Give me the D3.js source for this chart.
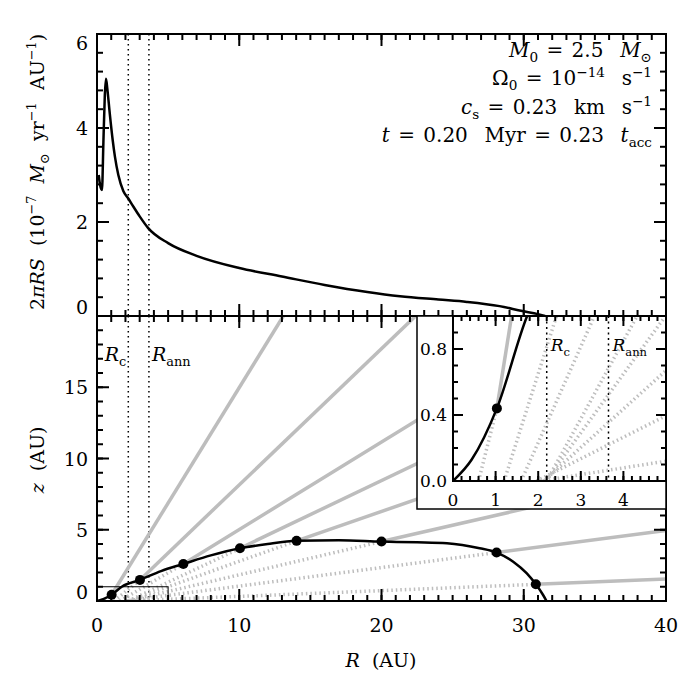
<!DOCTYPE html>
<html>
<head>
<meta charset="utf-8">
<script src="https://cdn.jsdelivr.net/npm/d3@7"></script>
<style>
body { margin: 0; background: #fff; }
svg text { font-family: "DejaVu Serif", serif; white-space: pre; }
</style>
</head>
<body>
<svg id="chart" width="700" height="700"></svg>
<script>
// ---- data ----
// top panel: 2 pi R S (1e-7 Msun/yr/AU) against R (AU)
const rateR = [0.12, 0.22, 0.35, 0.45, 0.55, 0.63, 0.72, 0.9, 1.1, 1.26, 1.5, 1.85, 2.2, 2.55, 3, 3.6, 5, 7, 10, 13, 16, 19, 21.3, 24, 26, 28.3, 29.9, 31, 31.5];
const rateS = [3.0, 2.78, 2.68, 3.7, 4.7, 5.05, 4.85, 4.3, 3.75, 3.39, 3.0, 2.66, 2.5, 2.33, 2.12, 1.87, 1.55, 1.28, 1.02, 0.84, 0.66, 0.51, 0.42, 0.35, 0.30, 0.21, 0.105, 0.04, 0.0];

// bottom panel: disk surface z(R)
const surfR = [0, 0.44, 1.03, 1.74, 3.02, 4.5, 6.07, 8, 10.05, 12, 14.03, 17, 20, 22.5, 24.6, 26.9, 28.09, 29.26, 30.2, 30.85, 31.36, 31.6];
const surfZ = [0, 0.13, 0.44, 1.0, 1.48, 2.1, 2.6, 3.2, 3.7, 4.0, 4.22, 4.27, 4.17, 4.12, 4.05, 3.7, 3.4, 2.76, 1.95, 1.17, 0.42, 0];

// streamlines: foot on the midplane, landing point on the surface, far end
const footR = [0.6, 1.2, 1.6, 2.2, 2.18, 2.13, 1.96, 2.04];
const dotR = [1.03, 3.02, 6.07, 10.05, 14.03, 20.0, 28.09, 30.85];
const dotZ = [0.44, 1.48, 2.6, 3.7, 4.22, 4.17, 3.4, 1.17];
const endR = [13.1, 22.4, 34.4, 40, 40, 40, 40, 40];
const endZ = [20, 20, 20, 18, 13.2, 8.75, 4.94, 1.55];

const rC = 2.2, rAnn = 3.65;

const xTicks = [0, 10, 20, 30, 40];
const rateTicks = [0, 2, 4, 6];
const zTicks = [0, 5, 10, 15];
const insetXTicks = [0, 1, 2, 3, 4];
const insetZTicks = [0, 0.4, 0.8];

// ---- layout ----
const svg = d3.select("#chart");
const L = 97, R = 666, T = 34, MID = 316, B = 601;
const IL = 453, IB = 481, BOXL = 417, BOXB = 509;

const x = d3.scaleLinear([0, 40], [L, R]);
const yTop = d3.scaleLinear([0, 6], [MID, T]);
const z = d3.scaleLinear([0, 20], [B, MID]);
const xIn = d3.scaleLinear([0, 5], [IL, R]);
const zIn = d3.scaleLinear([0, 1], [IB, MID]);

const defs = svg.append("defs");
function clip(id, x0, y0, x1, y1) {
  defs.append("clipPath").attr("id", id).append("rect")
    .attr("x", x0).attr("y", y0).attr("width", x1 - x0).attr("height", y1 - y0);
  return "url(#" + id + ")";
}
const clipTop = clip("cTop", L, T, R, MID);
const clipBot = clip("cBot", L, MID, R, B);
const clipIn = clip("cIn", IL, MID, R, IB);

// rich text: parts are [string, kind], kind in "", "i", "sub", "sup"
function rich(sel, parts) {
  let shift = 0;
  parts.forEach(function(p) {
    const kind = p[1] || "";
    const target = kind === "sub" ? 5 : kind === "sup" ? -8 : 0;
    const ts = sel.append("tspan").attr("dy", target - shift).text(p[0]);
    shift = target;
    if (kind === "sub" || kind === "sup") ts.attr("font-size", "0.68em");
    if (kind === "i") ts.attr("font-style", "italic");
  });
  return sel;
}

// inward ticks on all four sides of a box, plus the box itself
function frameTicks(g, xs, ys, xMajor, xMinor, yMajor, yMinor, big, small) {
  const [x0, x1] = xs.range();
  const [y0, y1] = ys.range(); // y0 bottom, y1 top
  const tg = g.append("g").attr("class", "tk").attr("stroke", "#000").attr("stroke-width", 2);
  [[xMajor, big], [xMinor, small]].forEach(function(s) {
    tg.selectAll(null).data(s[0]).enter().append("line")
      .attr("x1", d => xs(d)).attr("x2", d => xs(d)).attr("y1", y0).attr("y2", y0 - s[1]);
    tg.selectAll(null).data(s[0]).enter().append("line")
      .attr("x1", d => xs(d)).attr("x2", d => xs(d)).attr("y1", y1).attr("y2", y1 + s[1]);
  });
  [[yMajor, big], [yMinor, small]].forEach(function(s) {
    tg.selectAll(null).data(s[0]).enter().append("line")
      .attr("y1", d => ys(d)).attr("y2", d => ys(d)).attr("x1", x0).attr("x2", x0 + s[1]);
    tg.selectAll(null).data(s[0]).enter().append("line")
      .attr("y1", d => ys(d)).attr("y2", d => ys(d)).attr("x1", x1).attr("x2", x1 - s[1]);
  });
  g.append("rect").attr("x", x0).attr("y", y1).attr("width", x1 - x0).attr("height", y0 - y1)
    .attr("fill", "none").attr("stroke", "#000").attr("stroke-width", 2);
}

// ---- top panel ----
const topG = svg.append("g");
[rC, rAnn].forEach(function(r) {
  topG.append("line").attr("x1", x(r)).attr("x2", x(r)).attr("y1", T).attr("y2", MID)
    .attr("stroke", "#000").attr("stroke-width", 1.5).attr("stroke-dasharray", "1.5,3.5");
});
topG.append("path")
  .datum(d3.zip(rateR, rateS))
  .attr("clip-path", clipTop)
  .attr("fill", "none").attr("stroke", "#000").attr("stroke-width", 2.5)
  .attr("d", d3.line().x(d => x(d[0])).y(d => yTop(d[1])).curve(d3.curveMonotoneX));

frameTicks(topG, x, yTop, xTicks, d3.range(0, 41, 1), rateTicks, d3.range(0, 6.01, 0.4), 12, 6);

const ann = [
  [["M", "i"], ["0", "sub"], [" = 2.5  "], ["M", "i"], ["⊙", "sub"]],
  [["Ω"], ["0", "sub"], [" = 10"], ["−14", "sup"], ["  s"], ["−1", "sup"]],
  [["c", "i"], ["s", "sub"], [" = 0.23  km  s"], ["−1", "sup"]],
  [["t", "i"], [" = 0.20  Myr = 0.23  "], ["t", "i"], ["acc", "sub"]]
];
ann.forEach(function(parts, i) {
  rich(topG.append("text").attr("x", 652).attr("y", 57 + i * 28.3)
    .attr("text-anchor", "end").attr("font-size", 20).attr("word-spacing", 2), parts);
});

// ---- bottom panel ----
const botG = svg.append("g");
const streams = d3.range(dotR.length).map(i => ({
  foot: [footR[i], 0], dot: [dotR[i], dotZ[i]], end: [endR[i], endZ[i]]
}));

function drawDisk(g, xs, zs, clipUrl, dotted) {
  const inner = g.append("g").attr("clip-path", clipUrl);
  [rC, rAnn].forEach(function(r) {
    inner.append("line").attr("x1", xs(r)).attr("x2", xs(r)).attr("y1", zs.range()[1]).attr("y2", zs.range()[0])
      .attr("stroke", "#000").attr("stroke-width", 1.5).attr("stroke-dasharray", dotted);
  });
  inner.selectAll(".inside").data(streams).enter().append("line")
    .attr("x1", d => xs(d.foot[0])).attr("y1", d => zs(d.foot[1]))
    .attr("x2", d => xs(d.dot[0])).attr("y2", d => zs(d.dot[1]))
    .attr("stroke", "#bdbdbd").attr("stroke-width", 3.5).attr("stroke-dasharray", "1.5,3");
  inner.selectAll(".outside").data(streams).enter().append("line")
    .attr("x1", d => xs(d.dot[0])).attr("y1", d => zs(d.dot[1]))
    .attr("x2", d => xs(d.end[0])).attr("y2", d => zs(d.end[1]))
    .attr("stroke", "#bdbdbd").attr("stroke-width", 3.5);
  return inner;
}

const botInner = drawDisk(botG, x, z, clipBot, "1.5,3.5");
botInner.append("rect").attr("x", x(0)).attr("y", z(1)).attr("width", x(5) - x(0)).attr("height", z(0) - z(1))
  .attr("fill", "none").attr("stroke", "#000").attr("stroke-width", 1);
const surfLine = (xs, zs) => d3.line().x(d => xs(d[0])).y(d => zs(d[1])).curve(d3.curveMonotoneX);
botInner.append("path").datum(d3.zip(surfR, surfZ))
  .attr("fill", "none").attr("stroke", "#000").attr("stroke-width", 2.5)
  .attr("d", surfLine(x, z));
botInner.selectAll("circle").data(streams).enter().append("circle")
  .attr("cx", d => x(d.dot[0])).attr("cy", d => z(d.dot[1])).attr("r", 5).attr("fill", "#000");

frameTicks(botG, x, z, xTicks, d3.range(0, 41, 1), zTicks.concat([20]), d3.range(0, 21, 1), 12, 6);

// R_c, R_ann labels (bottom panel)
rich(botG.append("text").attr("x", x(rC) - 2).attr("y", MID + 45).attr("text-anchor", "end").attr("font-size", 19),
  [["R", "i"], ["c", "sub"]]);
rich(botG.append("text").attr("x", x(rAnn) + 3).attr("y", MID + 45).attr("font-size", 19),
  [["R", "i"], ["ann", "sub"]]);

// ---- inset ----
const insG = svg.append("g");
insG.append("rect").attr("x", BOXL).attr("y", MID).attr("width", R - BOXL).attr("height", BOXB - MID)
  .attr("fill", "#fff").attr("stroke", "#000").attr("stroke-width", 1.5);
const inInner = drawDisk(insG, xIn, zIn, clipIn, "2,3.5");
inInner.append("path").datum(d3.zip(surfR, surfZ))
  .attr("fill", "none").attr("stroke", "#000").attr("stroke-width", 2.5)
  .attr("d", surfLine(xIn, zIn));
inInner.selectAll("circle").data(streams).enter().append("circle")
  .attr("cx", d => xIn(d.dot[0])).attr("cy", d => zIn(d.dot[1])).attr("r", 5).attr("fill", "#000");
frameTicks(insG, xIn, zIn, insetXTicks, d3.range(0, 5.01, 0.2), insetZTicks, d3.range(0, 1.01, 0.1), 10, 5);

rich(insG.append("text").attr("x", xIn(rC) + 4).attr("y", MID + 35).attr("font-size", 17),
  [["R", "i"], ["c", "sub"]]);
rich(insG.append("text").attr("x", xIn(rAnn) + 4).attr("y", MID + 35).attr("font-size", 17),
  [["R", "i"], ["ann", "sub"]]);

insG.selectAll(".xl").data(insetXTicks).enter().append("text")
  .attr("x", d => xIn(d)).attr("y", IB + 25).attr("text-anchor", "middle").attr("font-size", 17)
  .text(d => d);
insG.selectAll(".yl").data(insetZTicks).enter().append("text")
  .attr("x", IL - 6).attr("y", d => zIn(d) + 6).attr("text-anchor", "end").attr("font-size", 17)
  .text(d => d3.format(".1f")(d));

// ---- tick labels and titles ----
const lab = svg.append("g").attr("font-size", 19);
lab.selectAll(".ry").data(rateTicks).enter().append("text")
  .attr("x", 88).attr("y", d => Math.max(T + 9, Math.min(MID - 9, yTop(d))) + 7)
  .attr("text-anchor", "end").text(d => d);
lab.selectAll(".zy").data(zTicks).enter().append("text")
  .attr("x", 88).attr("y", d => Math.min(B - 9, z(d)) + 7)
  .attr("text-anchor", "end").text(d => d);
lab.selectAll(".xx").data(xTicks).enter().append("text")
  .attr("x", d => x(d)).attr("y", 632).attr("text-anchor", "middle").text(d => d);

rich(lab.append("text").attr("x", 381).attr("y", 667).attr("text-anchor", "middle"),
  [["R", "i"], ["  (AU)"]]);
rich(lab.append("text").attr("transform", "translate(44,460) rotate(-90)").attr("text-anchor", "middle"),
  [["z", "i"], ["  (AU)"]]);
rich(lab.append("text").attr("transform", "translate(44,172) rotate(-90)").attr("text-anchor", "middle"),
  [["2"], ["πRS", "i"], ["  (10"], ["−7", "sup"], ["  "], ["M", "i"], ["⊙", "sub"], ["  yr"], ["−1", "sup"], ["  AU"], ["−1", "sup"], [")"]]);
</script>
</body>
</html>
